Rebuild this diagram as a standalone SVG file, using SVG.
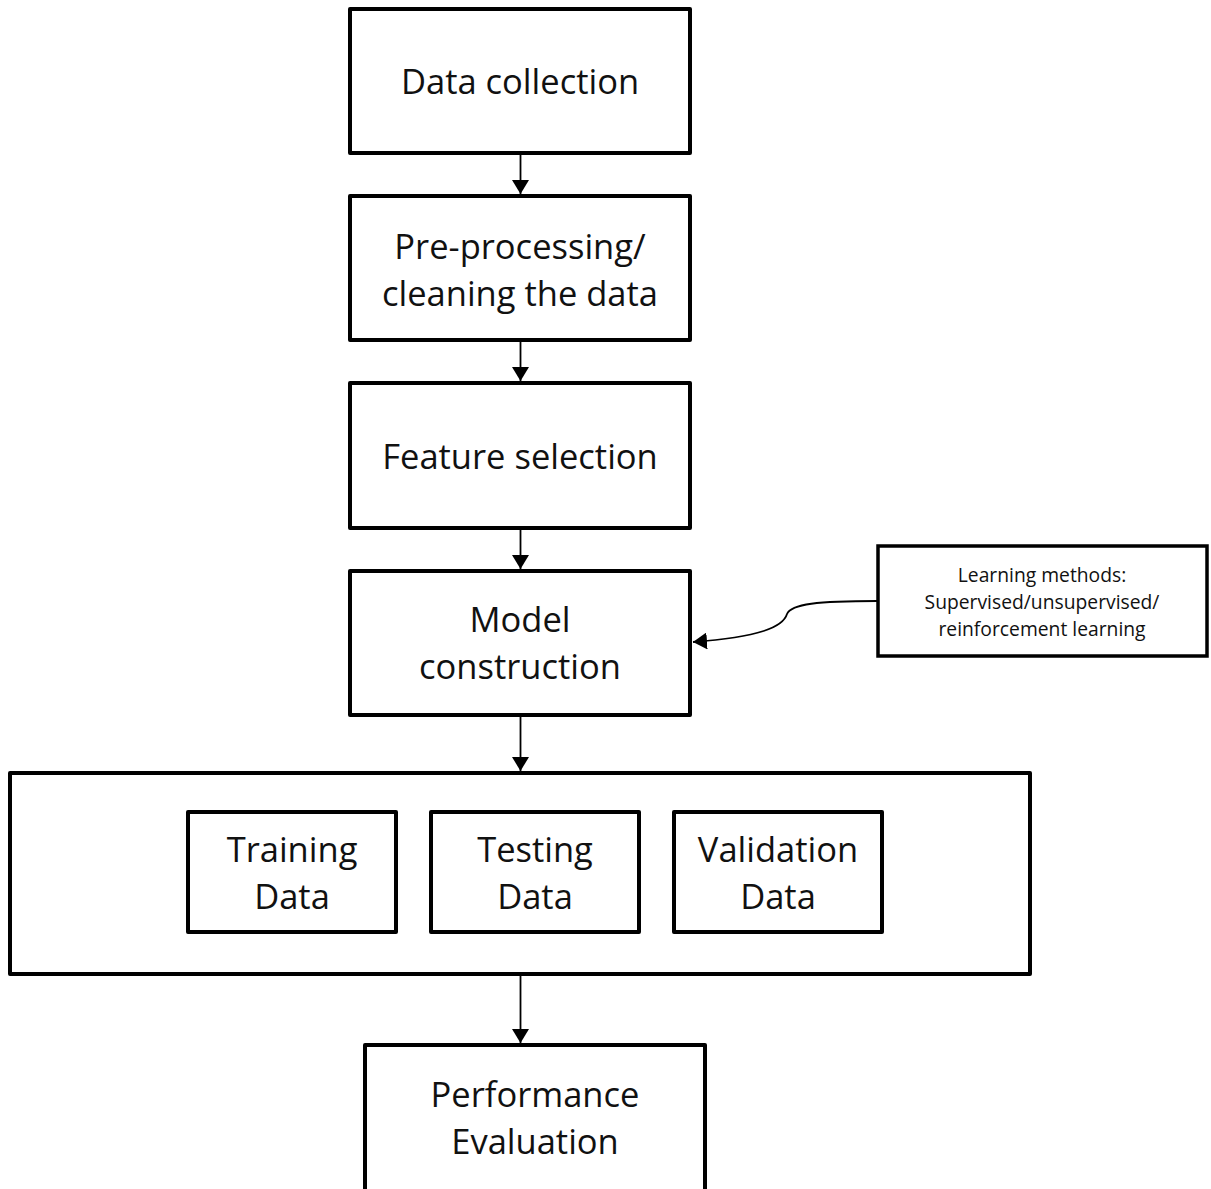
<svg xmlns="http://www.w3.org/2000/svg" width="1211" height="1189" viewBox="0 0 1211 1189">
<defs>
<style>
.box{fill:#fff;stroke:#000;stroke-width:4;stroke-linejoin:round}
.side{fill:#fff;stroke:#000;stroke-width:3.5}
.t{font-family:"Open Sans","Liberation Sans",sans-serif;font-size:34.5px;fill:#111;text-anchor:middle}
.s{font-family:"Open Sans","Liberation Sans",sans-serif;font-size:19.3px;fill:#111;text-anchor:middle}
.c{fill:none;stroke:#000;stroke-width:1.8}
</style>
<marker id="ah" viewBox="0 0 14 17" refX="14" refY="8.5" markerWidth="14" markerHeight="17" markerUnits="userSpaceOnUse" orient="auto">
<path d="M0,0 L14,8.5 L0,17 Z" fill="#000"/>
</marker>
</defs>
<rect width="1211" height="1189" fill="#fff"/>
<g id="connectors">
<line class="c" x1="520.5" y1="155" x2="520.5" y2="194" marker-end="url(#ah)"/>
<line class="c" x1="520.5" y1="342" x2="520.5" y2="381" marker-end="url(#ah)"/>
<line class="c" x1="520.5" y1="530" x2="520.5" y2="569" marker-end="url(#ah)"/>
<line class="c" x1="520.5" y1="717" x2="520.5" y2="771" marker-end="url(#ah)"/>
<line class="c" x1="520.5" y1="976" x2="520.5" y2="1043" marker-end="url(#ah)"/>
<path class="c" d="M877,601 C818,601 791,604 787,614 C783,627 760,637 693,642" marker-end="url(#ah)"/>
</g>
<g id="data-collection">
<rect class="box" x="350" y="9" width="340" height="144"/>
<text class="t" x="520" y="94">Data collection</text>
</g>
<g id="preprocessing">
<rect class="box" x="350" y="196" width="340" height="144"/>
<text class="t" x="520" y="259">Pre-processing/</text>
<text class="t" x="520" y="306">cleaning the data</text>
</g>
<g id="feature-selection">
<rect class="box" x="350" y="383" width="340" height="145"/>
<text class="t" x="520" y="469">Feature selection</text>
</g>
<g id="model-construction">
<rect class="box" x="350" y="571" width="340" height="144"/>
<text class="t" x="520" y="632">Model</text>
<text class="t" x="520" y="679">construction</text>
</g>
<g id="learning-methods">
<rect class="side" x="878" y="546" width="329" height="110"/>
<text class="s" x="1042" y="582">Learning methods:</text>
<text class="s" x="1042" y="609">Supervised/unsupervised/</text>
<text class="s" x="1042" y="636">reinforcement learning</text>
</g>
<g id="data-split">
<rect class="box" x="10" y="773" width="1020" height="201"/>
</g>
<g id="training-data">
<rect class="box" x="188" y="812" width="208" height="120"/>
<text class="t" x="292" y="862">Training</text>
<text class="t" x="292" y="909">Data</text>
</g>
<g id="testing-data">
<rect class="box" x="431" y="812" width="208" height="120"/>
<text class="t" x="535" y="862">Testing</text>
<text class="t" x="535" y="909">Data</text>
</g>
<g id="validation-data">
<rect class="box" x="674" y="812" width="208" height="120"/>
<text class="t" x="778" y="862">Validation</text>
<text class="t" x="778" y="909">Data</text>
</g>
<g id="performance-evaluation">
<rect class="box" x="365" y="1045" width="340" height="150"/>
<text class="t" x="535" y="1107">Performance</text>
<text class="t" x="535" y="1154">Evaluation</text>
</g>
</svg>
